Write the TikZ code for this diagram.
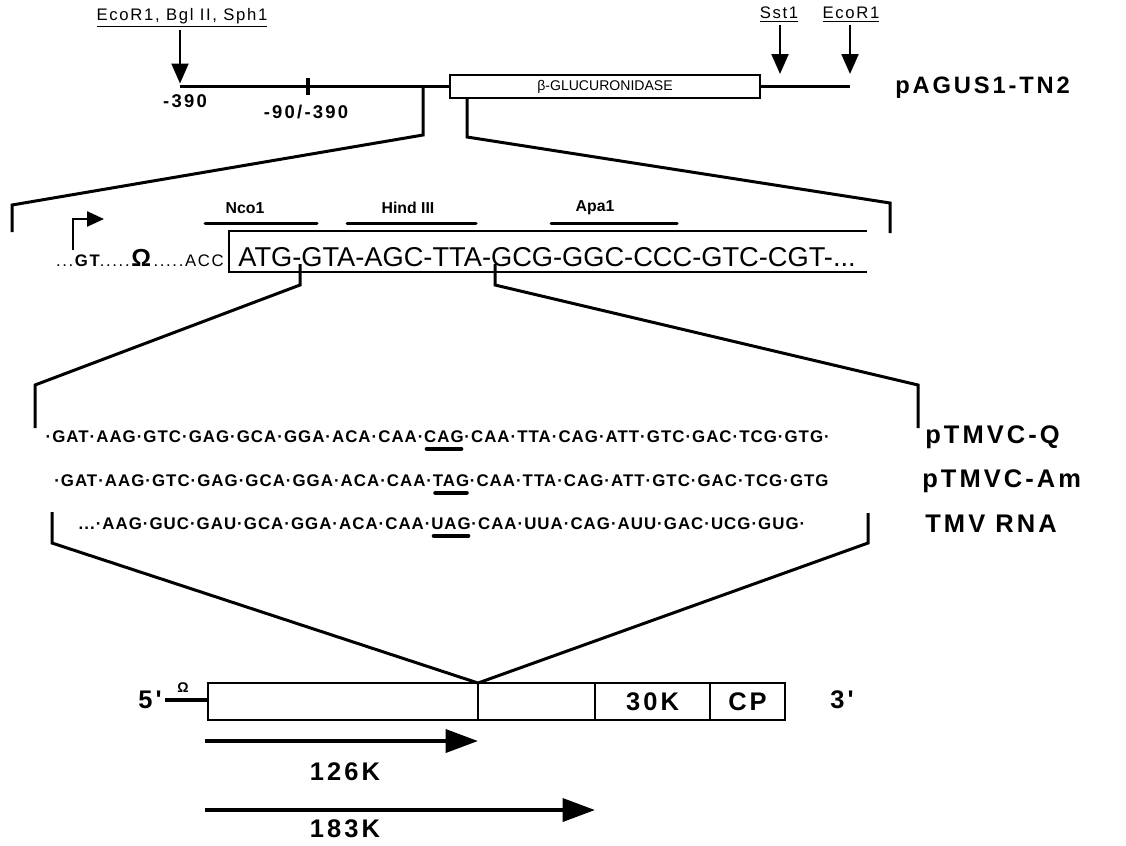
\documentclass[tikz,border=0pt]{standalone}
\usepackage{fontspec}
\setmainfont{Liberation Sans}
\newfontfamily\labelfont{Liberation Sans}[LetterSpace=12]
\newfontfamily\seqfont{Liberation Sans}[LetterSpace=6]
\newfontfamily\sitefont{Liberation Sans}[LetterSpace=10]
\usetikzlibrary{positioning, arrows.meta, calc}

\begin{document}
\begin{tikzpicture}[x=0.2mm, y=-0.2mm,
    dnaline/.style={line width=0.75mm},
    bracket/.style={line width=0.6mm, line join=miter},
    cutarrow/.style={line width=0.45mm, -{Triangle[length=4mm, width=3.4mm]}},
    orfarrow/.style={line width=0.8mm, -{Triangle[length=6.5mm, width=4.6mm]}},
    sitebar/.style={line width=0.6mm, line cap=round},
    stopbar/.style={line width=0.9mm, line cap=round},
    sitelabel/.style={font=\sitefont\fontsize{9.5}{10}\selectfont, inner sep=1pt},
    enzyme/.style={font=\bfseries\fontsize{9}{10}\selectfont, inner sep=1pt},
    biglabel/.style={font=\labelfont\bfseries\fontsize{14.5}{15}\selectfont, inner sep=0pt},
    poslabel/.style={font=\labelfont\bfseries\fontsize{10.5}{11}\selectfont, inner sep=0pt},
    seq/.style={font=\seqfont\bfseries\fontsize{9.6}{11}\selectfont, inner sep=0pt},
    orfbox/.style={draw, line width=0.5mm, minimum height=7.4mm, inner sep=0pt, outer sep=0pt, font=\labelfont\bfseries\fontsize{14.5}{15}\selectfont}
]

\useasboundingbox (0,0) rectangle (1126,845);

% pAGUS1-TN2 ===========================
\node[draw, line width=0.5mm, minimum width=62mm, minimum height=4.6mm, inner sep=0pt, font=\fontsize{8}{9}\selectfont] (gus) at (605,86.5) {β-GLUCURONIDASE};
\coordinate (p390) at (180,86.5);
\coordinate (pend) at (850,86.5);
\draw[dnaline] (p390) -- (gus.west);
\draw[dnaline] (gus.east) -- (pend);
\draw[line width=0.9mm] (308,78) -- (308,95);
\node[poslabel] (m390) at (185,101) {-390};
\node[poslabel] (m90) at (306,112) {-90/-390};
\node[biglabel, anchor=west, font=\labelfont\bfseries\fontsize{13.5}{14}\selectfont] (pagus) at (895,88) {pAGUS1-TN2};

% cut sites ===========================
\node[sitelabel] (ecoL) at (182,18) {\underline{EcoR1, Bgl II, Sph1}};
\node[sitelabel] (sst) at (779,15) {\underline{Sst1}};
\node[sitelabel] (ecoR) at (851,15) {\underline{EcoR1}};
\coordinate (sstcut) at (780,74);
\coordinate (ecoRcut) at (850,74);
\draw[cutarrow] (ecoL.south -| p390) -- ($(p390)+(0,-3)$);
\draw[cutarrow] (sst.south -| sstcut) -- (sstcut);
\draw[cutarrow] (ecoR.south -| ecoRcut) -- (ecoRcut);

% first zoom ===========================
\coordinate (zoomA) at (423,86.5);
\coordinate (zoomB) at (467,98);
\draw[bracket] (zoomA) -- (423,135) -- (12,205) -- (12,232);
\draw[bracket] (zoomB) -- (467,137) -- (890,203) -- (890,233);

% leader and ORF start ===========================
\node[anchor=east, inner sep=0pt, font=\sitefont\fontsize{9.5}{10}\selectfont] (lead) at (224,258) {...\textbf{GT}.....{\fontsize{14}{14}\selectfont\textbf{Ω}}.....ACC};
\draw[line width=0.5mm, -{Triangle[length=3.4mm, width=3mm]}] (73,250) -- (73,219) -- (104,219);
\draw[line width=0.55mm] (867,231) -- (229,231) -- (229,272) -- (867,272);
\node[anchor=west, inner sep=0pt, font=\fontsize{15.5}{16}\selectfont] (orf) at (238,257) {ATG-GTA-AGC-TTA-GCG-GGC-CCC-GTC-CGT-...};

\node[enzyme] (nco) at (245,208) {Nco1};
\node[enzyme] (hind) at (408,208) {Hind III};
\node[enzyme] (apa) at (595,208) {Apa1};
\draw[sitebar] (205,223) -- (317,223);
\draw[sitebar] (347,223) -- (476,223);
\draw[sitebar] (551,223) -- (677,223);

% second zoom ===========================
\coordinate (atgcut) at (300,264);
\coordinate (ttacut) at (495,264);
\draw[bracket] (atgcut) -- (300,285) -- (35,385) -- (35,428);
\draw[bracket] (ttacut) -- (495,285) -- (918,385) -- (918,428);

% pTMVC-Q ===========================
\node[seq] (qstop) at (444,437) {CAG};
\node[seq, anchor=base east] (qpre) at (qstop.base west) {·GAT·AAG·GTC·GAG·GCA·GGA·ACA·CAA·};
\node[seq, anchor=base west] (qpost) at (qstop.base east) {·CAA·TTA·CAG·ATT·GTC·GAC·TCG·GTG·};
\draw[stopbar] ($(qstop.base west)+(3,6)$) -- ($(qstop.base east)+(-3,6)$);
\node[biglabel, anchor=west] (qname) at (925,437) {pTMVC-Q};

% pTMVC-Am ===========================
\node[seq] (astop) at (451,481) {TAG};
\node[seq, anchor=base east] (apre) at (astop.base west) {·GAT·AAG·GTC·GAG·GCA·GGA·ACA·CAA·};
\node[seq, anchor=base west] (apost) at (astop.base east) {·CAA·TTA·CAG·ATT·GTC·GAC·TCG·GTG};
\draw[stopbar] ($(astop.base west)+(3,6)$) -- ($(astop.base east)+(-3,6)$);
\node[biglabel, anchor=west] (aname) at (922,481) {pTMVC-Am};

% TMV RNA ===========================
\node[seq] (rstop) at (451,524) {UAG};
\node[seq, anchor=base east] (rpre) at (rstop.base west) {...·AAG·GUC·GAU·GCA·GGA·ACA·CAA·};
\node[seq, anchor=base west] (rpost) at (rstop.base east) {·CAA·UUA·CAG·AUU·GAC·UCG·GUG·};
\draw[stopbar] ($(rstop.base west)+(3,6)$) -- ($(rstop.base east)+(-3,6)$);
\node[biglabel, anchor=west] (rname) at (925,524) {TMV RNA};

% TMV genome ===========================
\node[orfbox, minimum width=54mm] (orf126) at (343,701.5) {};
\node[orfbox, minimum width=23.4mm, right=0pt of orf126] (orfrt) {};
\node[orfbox, minimum width=23mm, right=0pt of orfrt] (orf30) {30K};
\node[orfbox, minimum width=15mm, right=0pt of orf30] (orfcp) {CP};
\node[biglabel] (five) at (150,700) {5'};
\node[biglabel] (three) at (842,700) {3'};
\coordinate (lead5) at (165,700);
\draw[dnaline] (lead5) -- (lead5 -| orf126.west);
\node[font=\bfseries\fontsize{8}{8}\selectfont, inner sep=0pt] (omega) at (183,688) {Ω};

\draw[bracket] (52,512) -- (52,543) -- (orf126.north east) -- (868,543) -- (868,513);

% products ===========================
\coordinate (s126) at (205,741);
\draw[orfarrow] (s126) -- (s126 -| orf126.east);
\node[biglabel] (k126) at (345,772) {126K};
\coordinate (s183) at (205,810);
\draw[orfarrow] (s183) -- (s183 -| orfrt.east);
\node[biglabel] (k183) at (345,829) {183K};

\end{tikzpicture}
\end{document}
